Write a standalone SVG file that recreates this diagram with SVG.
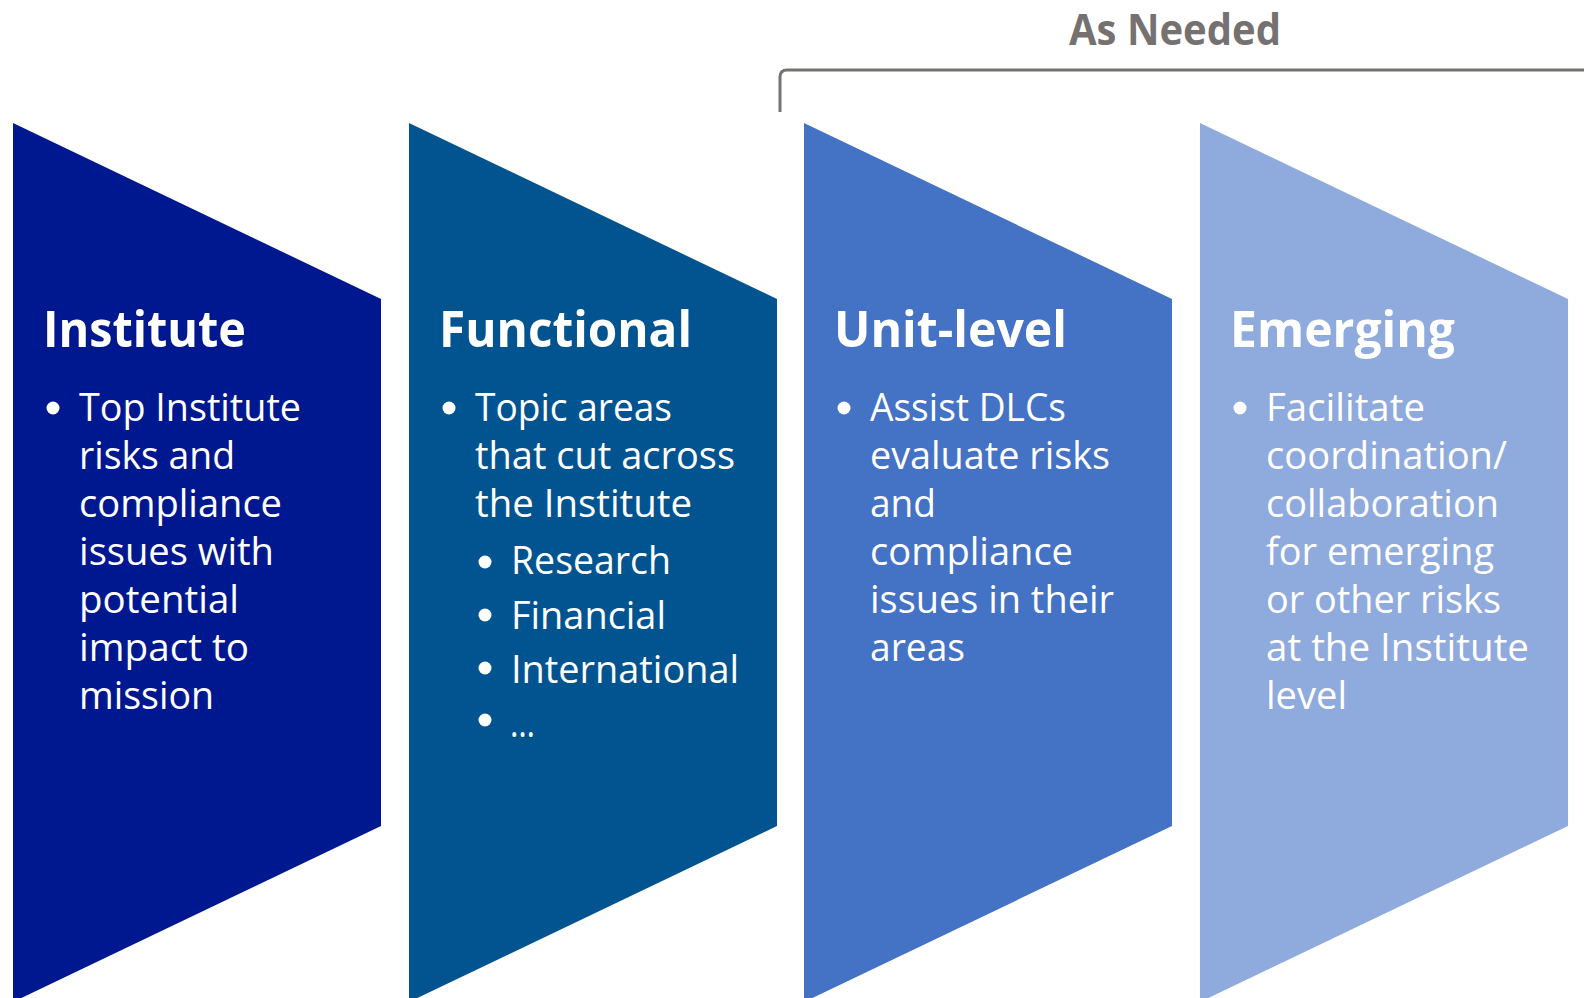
<svg xmlns="http://www.w3.org/2000/svg" width="1584" height="998" viewBox="0 0 1584 998">
<style>
  .h { font-family: "Open Sans", "Liberation Sans", sans-serif; font-weight: 700; font-size: 51px; fill: #ffffff; }
  .b { font-family: "Open Sans", "Liberation Sans", sans-serif; font-weight: 400; font-size: 38px; fill: #ffffff; }
  .note { font-family: "Open Sans", "Liberation Sans", sans-serif; font-weight: 700; font-size: 43px; fill: #767171; }
  .dot { fill: #ffffff; }
  .bracket { fill: none; stroke: #767171; stroke-width: 3; }
</style>
<rect width="1584" height="998" fill="#ffffff"/>

<g id="connectors">
  <path class="bracket" d="M 780 112 V 77 Q 780 70 787 70 H 1584"/>
  <text class="note" x="1069" y="45" textLength="212" lengthAdjust="spacingAndGlyphs">As Needed</text>
</g>

<g id="institute">
  <polygon points="13,123 381,299 381,826 13,1002" fill="#00188F"/>
  <text class="h" x="43" y="347" textLength="203" lengthAdjust="spacingAndGlyphs">Institute</text>
  <circle class="dot" cx="53" cy="408" r="6.5"/>
  <text class="b" x="79" y="421" textLength="222" lengthAdjust="spacingAndGlyphs">Top Institute</text>
  <text class="b" x="79" y="469" textLength="156" lengthAdjust="spacingAndGlyphs">risks and</text>
  <text class="b" x="79" y="517" textLength="203" lengthAdjust="spacingAndGlyphs">compliance</text>
  <text class="b" x="79" y="565" textLength="195" lengthAdjust="spacingAndGlyphs">issues with</text>
  <text class="b" x="79" y="613" textLength="160" lengthAdjust="spacingAndGlyphs">potential</text>
  <text class="b" x="79" y="661" textLength="170" lengthAdjust="spacingAndGlyphs">impact to</text>
  <text class="b" x="79" y="709" textLength="135" lengthAdjust="spacingAndGlyphs">mission</text>
</g>

<g id="functional">
  <polygon points="409,123 777,299 777,826 409,1002" fill="#01548F"/>
  <text class="h" x="439" y="347" textLength="253" lengthAdjust="spacingAndGlyphs">Functional</text>
  <circle class="dot" cx="449" cy="408" r="6.5"/>
  <text class="b" x="475" y="421" textLength="197" lengthAdjust="spacingAndGlyphs">Topic areas</text>
  <text class="b" x="475" y="469" textLength="260" lengthAdjust="spacingAndGlyphs">that cut across</text>
  <text class="b" x="475" y="517" textLength="217" lengthAdjust="spacingAndGlyphs">the Institute</text>
  <circle class="dot" cx="485" cy="562" r="6.5"/>
  <text class="b" x="511" y="574" textLength="160" lengthAdjust="spacingAndGlyphs">Research</text>
  <circle class="dot" cx="485" cy="615" r="6.5"/>
  <text class="b" x="511" y="629" textLength="155" lengthAdjust="spacingAndGlyphs">Financial</text>
  <circle class="dot" cx="485" cy="668" r="6.5"/>
  <text class="b" x="511" y="683" textLength="228" lengthAdjust="spacingAndGlyphs">International</text>
  <circle class="dot" cx="485" cy="720" r="6.5"/>
  <text class="b" x="510" y="737" textLength="25" lengthAdjust="spacingAndGlyphs">…</text>
</g>

<g id="unit-level">
  <polygon points="804,123 1172,299 1172,826 804,1002" fill="#4472C4"/>
  <text class="h" x="834" y="347" textLength="233" lengthAdjust="spacingAndGlyphs">Unit-level</text>
  <circle class="dot" cx="844" cy="408" r="6.5"/>
  <text class="b" x="870" y="421" textLength="196" lengthAdjust="spacingAndGlyphs">Assist DLCs</text>
  <text class="b" x="870" y="469" textLength="240" lengthAdjust="spacingAndGlyphs">evaluate risks</text>
  <text class="b" x="870" y="517" textLength="66" lengthAdjust="spacingAndGlyphs">and</text>
  <text class="b" x="870" y="565" textLength="203" lengthAdjust="spacingAndGlyphs">compliance</text>
  <text class="b" x="870" y="613" textLength="244" lengthAdjust="spacingAndGlyphs">issues in their</text>
  <text class="b" x="870" y="661" textLength="95" lengthAdjust="spacingAndGlyphs">areas</text>
</g>

<g id="emerging">
  <polygon points="1200,123 1568,299 1568,826 1200,1002" fill="#8FAADC"/>
  <text class="h" x="1230" y="347" textLength="225" lengthAdjust="spacingAndGlyphs">Emerging</text>
  <circle class="dot" cx="1240" cy="408" r="6.5"/>
  <text class="b" x="1266" y="421" textLength="159" lengthAdjust="spacingAndGlyphs">Facilitate</text>
  <text class="b" x="1266" y="469" textLength="241" lengthAdjust="spacingAndGlyphs">coordination/</text>
  <text class="b" x="1266" y="517" textLength="233" lengthAdjust="spacingAndGlyphs">collaboration</text>
  <text class="b" x="1266" y="565" textLength="228" lengthAdjust="spacingAndGlyphs">for emerging</text>
  <text class="b" x="1266" y="613" textLength="235" lengthAdjust="spacingAndGlyphs">or other risks</text>
  <text class="b" x="1266" y="661" textLength="263" lengthAdjust="spacingAndGlyphs">at the Institute</text>
  <text class="b" x="1266" y="709" textLength="81" lengthAdjust="spacingAndGlyphs">level</text>
</g>
</svg>
